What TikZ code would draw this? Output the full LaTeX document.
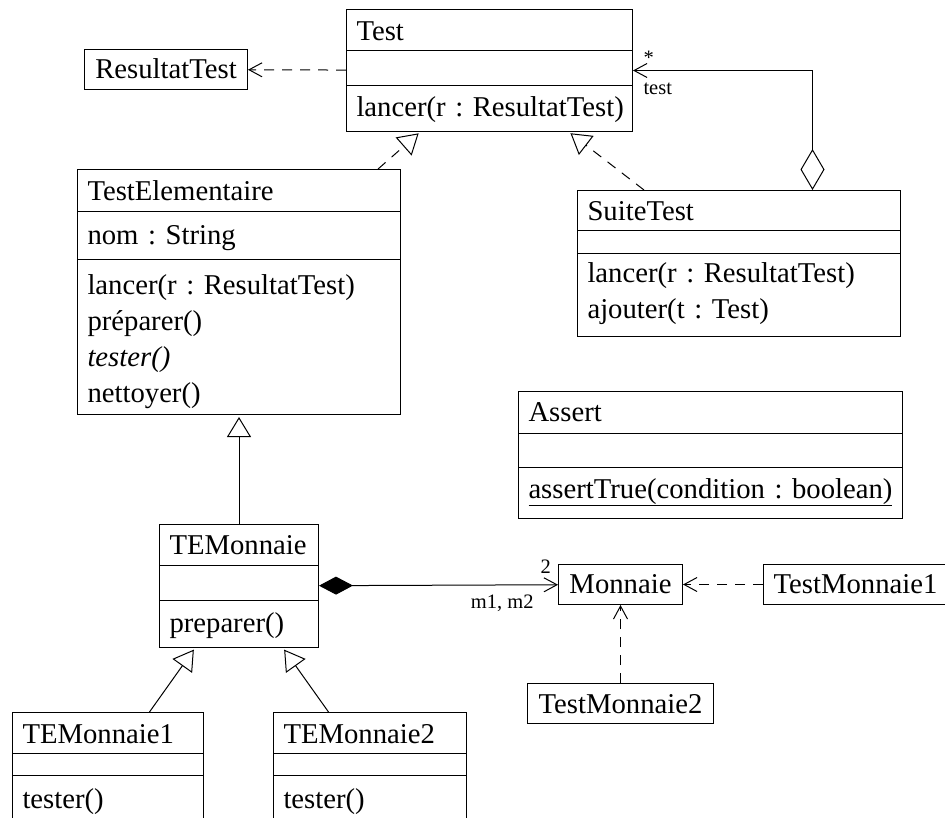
\documentclass[tikz,border=0pt]{standalone}
\usepackage{fontspec}
\setmainfont{Liberation Serif}
\usetikzlibrary{shapes.multipart,arrows.meta}
\newcommand{\sz}[2]{\rule[-#2pt]{0pt}{#1pt}}
\hyphenpenalty=10000
\exhyphenpenalty=10000
\begin{document}
\begin{tikzpicture}[x=1pt, y=-1pt, line width=1pt,
    class/.style={draw, rectangle split, rectangle split parts=3, anchor=north west,
      inner xsep=10pt, inner ysep=0pt, align=left, font=\fontsize{28.7}{36}\selectfont},
    box/.style={draw, anchor=north west, inner sep=0pt, font=\fontsize{28.7}{36}\selectfont},
    role/.style={inner sep=0pt, font=\fontsize{20.5}{24}\selectfont},
    dep/.style={dash pattern=on 10pt off 8pt, -{Straight Barb[length=13pt,width=14pt]}},
    real/.style={dash pattern=on 10pt off 8pt, -{Triangle[open,length=20pt,width=24pt]}, shorten >=2pt},
    gen/.style={-{Triangle[open,length=20pt,width=24pt]}, shorten >=2pt}]

  \useasboundingbox (0,0) rectangle (945,817);
  \clip (0,0) rectangle (945,817);

  \node[class, text width=266pt] (Test) at (346,9)
    {\sz{40}{10}Test\nodepart{two}\sz{34}{0}\nodepart{three}\sz{45}{15}\mbox{lancer(r~:~ResultatTest)}};
  \node[box, minimum width=163pt] (ResultatTest) at (84,49) {\sz{40}{11}ResultatTest};
  \node[class, text width=303pt] (TestElementaire) at (77,169)
    {\sz{41}{11}TestElementaire
     \nodepart{two}\sz{47}{15}nom~:~String
     \nodepart{three}\sz{34}{0}lancer(r~:~ResultatTest)\\préparer()\\\textit{tester()}\\nettoyer()\sz{12}{12}};
  \node[class, text width=303pt] (SuiteTest) at (577,190)
    {\sz{39}{10}SuiteTest
     \nodepart{two}\sz{22}{0}
     \nodepart{three}\sz{28}{0}lancer(r~:~ResultatTest)\\ajouter(t~:~Test)\sz{18}{18}};
  \node[class, text width=364pt] (Assert) at (518,391)
    {\sz{41}{12}Assert
     \nodepart{two}\sz{33}{0}
     \nodepart{three}\sz{50}{20}\underline{assertTrue(condition~:~boolean)}};
  \node[class, text width=139pt] (TEMonnaie) at (159,524)
    {\sz{40}{11}TEMonnaie\nodepart{two}\sz{34}{0}\nodepart{three}\sz{46}{15}preparer()};
  \node[class, text width=171pt] (TEMonnaie1) at (12,712)
    {\sz{40}{10}TEMonnaie1\nodepart{two}\sz{21}{0}\nodepart{three}\sz{32}{0}tester()\sz{20}{20}};
  \node[class, text width=173pt] (TEMonnaie2) at (273,712)
    {\sz{40}{10}TEMonnaie2\nodepart{two}\sz{21}{0}\nodepart{three}\sz{32}{0}tester()\sz{20}{20}};
  \node[box, minimum width=124pt] (Monnaie) at (558,564) {\sz{40}{11}Monnaie};
  \node[box, minimum width=184pt] (TestMonnaie1) at (763,564) {\sz{40}{11}TestMonnaie1};
  \node[box, minimum width=186pt] (TestMonnaie2) at (527,683) {\sz{40}{10}TestMonnaie2};

  \draw[dep] (Test) -- (ResultatTest);
  \draw[real] (TestElementaire) -- (Test);
  \draw[real] (SuiteTest) -- (Test);
  \draw[{Diamond[open,length=41pt,width=24pt]}-{Straight Barb[length=13pt,width=14pt]}]
    ([xshift=73.5pt]SuiteTest.north) |- (Test.east);
  \draw[gen] (TEMonnaie) -- (TestElementaire);
  \draw[gen] (TEMonnaie1) -- (TEMonnaie);
  \draw[gen] (TEMonnaie2) -- (TEMonnaie);
  \draw[{Diamond[length=34pt,width=18pt]}-{Straight Barb[length=13pt,width=14pt]}]
    (TEMonnaie) -- (Monnaie);
  \draw[dep] (TestMonnaie1) -- (Monnaie);
  \draw[dep] (TestMonnaie2) -- (Monnaie);

  \node[role, anchor=base west] (many) at ([xshift=10pt,yshift=6pt]Test.east) {*};
  \node[role, anchor=base west] (rolename) at ([xshift=10pt,yshift=-23.5pt]Test.east) {test};
  \node[role, anchor=base west] (two) at ([xshift=-18pt,yshift=11pt]Monnaie.west) {2};
  \node[role, anchor=base east] (roles) at ([xshift=-24pt,yshift=-24pt]Monnaie.west) {m1, m2};

\end{tikzpicture}
\end{document}
